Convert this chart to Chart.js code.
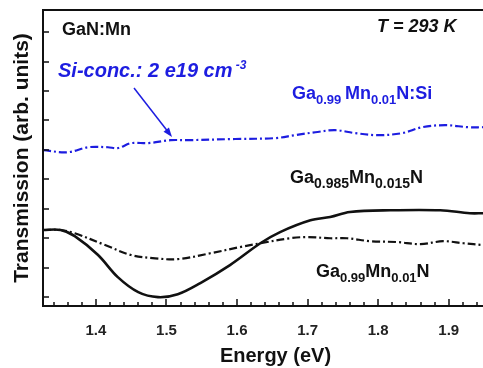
<!DOCTYPE html>
<html>
<head>
<meta charset="utf-8">
<script src="https://cdn.jsdelivr.net/npm/chart.js@4.4.1/dist/chart.umd.min.js"></script>
<style>
html,body{margin:0;padding:0;background:#fff;overflow:hidden;}
#wrap{width:483px;height:368px;overflow:hidden;position:relative;}
#c{display:block;}
</style>
</head>
<body>
<div id="wrap"><canvas id="c" width="508" height="368"></canvas></div>
<script>
// ---- Data ----
const energySolid = [1.325,1.350,1.370,1.403,1.431,1.460,1.488,1.516,1.548,1.590,1.633,1.661,1.704,1.732,1.760,1.817,1.888,1.930,1.949];
const transSolid  = [3.28,3.28,3.07,2.43,1.68,1.17,1.00,1.10,1.48,2.09,2.83,3.21,3.61,3.72,3.89,3.95,3.95,3.85,3.85];

const energyDashBlack = [1.325,1.350,1.370,1.413,1.450,1.484,1.516,1.562,1.604,1.633,1.675,1.699,1.732,1.756,1.789,1.827,1.860,1.892,1.921,1.949];
const transDashBlack  = [3.28,3.28,3.17,2.77,2.43,2.32,2.29,2.49,2.70,2.83,3.00,3.04,3.00,3.00,2.90,2.87,2.80,2.90,2.83,2.77];

const energySi = [1.325,1.360,1.389,1.417,1.431,1.450,1.474,1.506,1.530,1.597,1.654,1.682,1.711,1.739,1.767,1.800,1.834,1.862,1.895,1.928,1.949];
const transSi  = [5.99,5.92,6.09,6.09,6.06,6.23,6.23,6.33,6.33,6.37,6.40,6.50,6.60,6.67,6.57,6.50,6.57,6.77,6.84,6.77,6.77];

const xMajorTicks = [1.4,1.5,1.6,1.7,1.8,1.9];
const xMinorTicks = [1.34,1.36,1.38,1.42,1.44,1.46,1.48,1.52,1.54,1.56,1.58,1.62,1.64,1.66,1.68,1.72,1.74,1.76,1.78,1.82,1.84,1.86,1.88,1.92,1.94,1.96,1.98];
const yTicks = [1,2,3,4,5,6,7,8,9,10];

// the plotted frame runs past the right edge of the picture (clipped, as in the reference)
const xRange = [1.325, 1.984];
const yRange = [0.7, 10.75];

const BLUE = '#1d1de0';
const FONT = '"Liberation Sans", Arial, Helvetica, sans-serif';

function pts(xs, ys){ return xs.map((x,i)=>({x:x, y:ys[i]})); }

// rich text helper: parts = [[text, kind]] kind: 'n' normal, 'b' sub, 'p' sup
function drawRich(ctx, x, y, parts, size, subSize, color, italic){
  ctx.save();
  ctx.fillStyle = color;
  ctx.textBaseline = 'alphabetic';
  ctx.textAlign = 'left';
  let cx = x;
  const st = italic ? 'italic ' : '';
  for (const [t,k] of parts){
    const fs = k === 'n' ? size : subSize;
    ctx.font = st + 'bold ' + fs + 'px ' + FONT;
    let dy = 0;
    if (k === 'b') dy = size*0.28;
    if (k === 'p') dy = -size*0.38;
    ctx.fillText(t, cx, y + dy);
    cx += ctx.measureText(t).width;
  }
  ctx.restore();
}

const framePlugin = {
  id: 'frame',
  afterDraw(chart){
    const ctx = chart.ctx;
    const a = chart.chartArea;
    const xs = chart.scales.x, ys = chart.scales.y;
    ctx.save();
    ctx.strokeStyle = '#111';
    ctx.lineWidth = 2;
    ctx.beginPath();
    ctx.moveTo(a.left, a.top); ctx.lineTo(a.right, a.top);
    ctx.moveTo(a.left, a.top - 1); ctx.lineTo(a.left, a.bottom + 1);
    ctx.moveTo(a.left - 1, a.bottom); ctx.lineTo(a.right, a.bottom);
    ctx.stroke();
    ctx.lineWidth = 1.5;
    ctx.beginPath();
    for (const v of xMajorTicks){
      const px = Math.round(xs.getPixelForValue(v));
      ctx.moveTo(px, a.bottom); ctx.lineTo(px, a.bottom - 7);
    }
    for (const v of xMinorTicks){
      const px = Math.round(xs.getPixelForValue(v));
      ctx.moveTo(px, a.bottom); ctx.lineTo(px, a.bottom - 4);
    }
    for (const v of yTicks){
      const py = Math.round(ys.getPixelForValue(v));
      ctx.moveTo(a.left, py); ctx.lineTo(a.left + 6, py);
    }
    ctx.stroke();

    // arrow
    const x1 = 134, y1 = 88, x2 = 172, y2 = 137;
    ctx.strokeStyle = BLUE; ctx.fillStyle = BLUE; ctx.lineWidth = 1.5;
    ctx.beginPath(); ctx.moveTo(x1,y1); ctx.lineTo(x2 - 4, y2 - 5.2); ctx.stroke();
    const ang = Math.atan2(y2-y1, x2-x1), L = 10, W = 0.35;
    ctx.beginPath();
    ctx.moveTo(x2, y2);
    ctx.lineTo(x2 - L*Math.cos(ang-W), y2 - L*Math.sin(ang-W));
    ctx.lineTo(x2 - L*Math.cos(ang+W), y2 - L*Math.sin(ang+W));
    ctx.closePath(); ctx.fill();

    // texts
    drawRich(ctx, 62, 35, [['GaN:Mn','n']], 18, 12, '#111', false);
    drawRich(ctx, 377, 32, [['T = 293 K','n']], 18, 12, '#111', true);
    drawRich(ctx, 58, 77, [['Si-conc.: 2 e19 cm','n'],[' -3','p']], 20, 12, BLUE, true);
    drawRich(ctx, 292, 99, [['Ga','n'],['0.99 ','b'],['Mn','n'],['0.01','b'],['N:Si','n']], 18, 13, BLUE, false);
    drawRich(ctx, 290, 183, [['Ga','n'],['0.985','b'],['Mn','n'],['0.015','b'],['N','n']], 18, 14, '#111', false);
    drawRich(ctx, 316, 277, [['Ga','n'],['0.99','b'],['Mn','n'],['0.01','b'],['N','n']], 18, 13, '#111', false);
    ctx.restore();
  }
};

new Chart(document.getElementById('c'), {
  type: 'line',
  data: {
    datasets: [
      { label: 'Ga0.985Mn0.015N', data: pts(energySolid, transSolid), borderColor: '#111', borderWidth: 2.6, pointRadius: 0, tension: 0.35, fill: false },
      { label: 'Ga0.99Mn0.01N', data: pts(energyDashBlack, transDashBlack), borderColor: '#111', borderWidth: 2.2, borderDash: [8,3,2,3], pointRadius: 0, tension: 0.35, fill: false },
      { label: 'Ga0.99Mn0.01N:Si', data: pts(energySi, transSi), borderColor: BLUE, borderWidth: 2.2, borderDash: [8,3,2,3], pointRadius: 0, tension: 0.35, fill: false }
    ]
  },
  options: {
    responsive: false,
    animation: false,
    devicePixelRatio: 1,
    layout: { padding: { top: 10, right: 0, bottom: 0, left: 0 } },
    plugins: { legend: { display: false }, tooltip: { enabled: false } },
    scales: {
      x: {
        type: 'linear', min: xRange[0], max: xRange[1],
        grid: { display: false }, border: { display: false },
        afterBuildTicks: s => { s.ticks = xMajorTicks.map(v => ({ value: v })); },
        afterFit: s => { s.height = 62; },
        ticks: {
          padding: 8, color: '#222', maxRotation: 0, autoSkip: false,
          font: { family: FONT, size: 15, weight: 'bold' },
          callback: v => Number(v).toFixed(1)
        },
        title: { display: true, text: 'Energy (eV)', color: '#111', padding: { top: 0, bottom: 0 },
          font: { family: FONT, size: 20, weight: 'bold' } }
      },
      y: {
        type: 'linear', min: yRange[0], max: yRange[1],
        grid: { display: false }, border: { display: false },
        afterBuildTicks: s => { s.ticks = yTicks.map(v => ({ value: v })); },
        afterFit: s => { s.width = 43; },
        ticks: { display: false },
        title: { display: true, text: 'Transmission (arb. units)', color: '#111', padding: { top: 10, bottom: 0 },
          font: { family: FONT, size: 21, weight: 'bold' } }
      }
    }
  },
  plugins: [framePlugin]
});
</script>
</body>
</html>
